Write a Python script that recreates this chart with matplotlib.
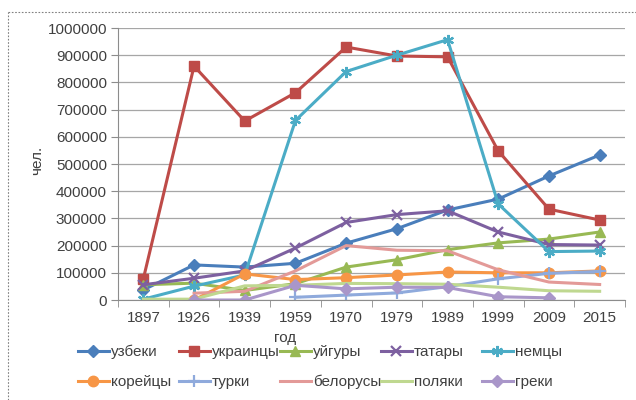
import numpy as np
import matplotlib
matplotlib.use("Agg")
import matplotlib.pyplot as plt
from matplotlib.lines import Line2D

plt.rcParams['font.family'] = ['Liberation Sans', 'DejaVu Sans']

###############################################################################
# Data (people), None = no value for that census
years = ['1897', '1926', '1939', '1959', '1970', '1979', '1989', '1999', '2009', '2015']

uzbeki = [37000, 129000, 121000, 135000, 209000, 262000, 331000, 371000, 456000, 533000]
ukraintsy = [78000, 860000, 658000, 762000, 930000, 897000, 894000, 548000, 334000, 294000]
uigury = [56000, 62000, 35000, 60000, 121000, 148000, 185000, 210000, 224000, 250000]
tatary = [56000, 80000, 107000, 191000, 285000, 314000, 328000, 250000, 204000, 202000]
nemtsy = [3000, 51000, 92000, 660000, 840000, 900000, 957000, 353000, 178000, 180000]
koreitsy = [None, 0, 96000, 75000, 82000, 92000, 103000, 100000, 100000, 107000]
turki = [None, None, None, 10000, 18000, 26000, 49000, 78000, 98000, 105000]
belorusy = [None, 25000, 32000, 107000, 200000, 183000, 181000, 111000, 66000, 57000]
polyaki = [3000, 3000, 52000, 54000, 61000, 60000, 58000, 47000, 34000, 32000]
greki = [None, 0, 0, 54000, 41000, 47000, 46000, 12000, 8000, None]

names = ['узбеки', 'украинцы', 'уйгуры', 'татары', 'немцы',
         'корейцы', 'турки', 'белорусы', 'поляки', 'греки']
series = [uzbeki, ukraintsy, uigury, tatary, nemtsy,
          koreitsy, turki, belorusy, polyaki, greki]
colors = ['#4A7EBB', '#BE4B48', '#98B954', '#7D60A0', '#4BACC6',
          '#F79646', '#8FAADC', '#E39A98', '#BFD890', '#A996C9']
markers = ['D', 's', '^', 'x', (6, 2, 0), 'o', '+', None, None, 'D']
msizes = [6, 7.5, 7.5, 7, 8, 7.5, 8, 0, 0, 6]

###############################################################################
# Figure
W, H = 636, 400
fig = plt.figure(figsize=(W / 100, H / 100), dpi=100)
ax = fig.add_axes([118 / W, 1 - 300 / H, 507 / W, 272 / H])

x = np.arange(len(years))
handles = []
for name, vals, c, m, ms in zip(names, series, colors, markers, msizes):
    y = np.array([np.nan if v is None else v for v in vals], dtype=float)
    mew = 1.6 if m in ('x', '+', (6, 2, 0)) else 1
    ln, = ax.plot(x, y, color=c, lw=2.2, marker=m, markersize=ms,
                  markeredgecolor=c, markerfacecolor=c, markeredgewidth=mew,
                  label=name)
    handles.append(ln)

ax.set_xlim(-0.5, len(years) - 0.5)
ax.set_ylim(0, 1000000)
ax.set_yticks(np.arange(0, 1000001, 100000))
ax.set_yticklabels([str(v) for v in range(0, 1000001, 100000)])
ax.set_xticks(x)
ax.set_xticklabels(years)
ax.set_xticks(np.arange(-0.5, len(years)), minor=True)

ax.grid(axis='y', color='#A6A6A6', lw=0.9)
ax.set_axisbelow(True)
for s in ['top', 'right']:
    ax.spines[s].set_visible(False)
for s in ['left', 'bottom']:
    ax.spines[s].set_color('#8C8C8C')
ax.tick_params(axis='x', which='major', length=0, pad=8, labelsize=11, colors='#404040')
ax.tick_params(axis='x', which='minor', length=5, color='#8C8C8C')
ax.tick_params(axis='y', length=5, color='#8C8C8C', pad=3, labelsize=11, colors='#404040')

fig.text(285 / W, 1 - 338 / H, 'год', ha='center', va='center', fontsize=11, color='#404040')
fig.text(37 / W, 1 - 160 / H, 'чел.', ha='center', va='center', rotation=90,
         fontsize=11, color='#404040')

# legend, one entry per slot (Excel-like fixed column pitch)
fs = 11
for i, h in enumerate(handles):
    col, row = i % 5, i // 5
    lx = (78 + 101 * col) / W
    ly = 1 - (352 + 30 * row) / H
    lg = fig.legend([h], [names[i]], loc='center left', bbox_to_anchor=(lx, ly),
                    frameon=False, fontsize=fs, borderpad=0, borderaxespad=0,
                    handlelength=2.0, handletextpad=0.15, numpoints=1)
    for t in lg.get_texts():
        t.set_color('#404040')

# dotted outer chart frame
frame = dict(color='#808080', lw=0.8, ls=(0, (1.5, 1.5)), transform=fig.transFigure)
fig.add_artist(Line2D([8 / W, 8 / W], [0, 1 - 12 / H], **frame))
fig.add_artist(Line2D([8 / W, 1], [1 - 12 / H, 1 - 12 / H], **frame))

fig.savefig('out.png', dpi=100)
